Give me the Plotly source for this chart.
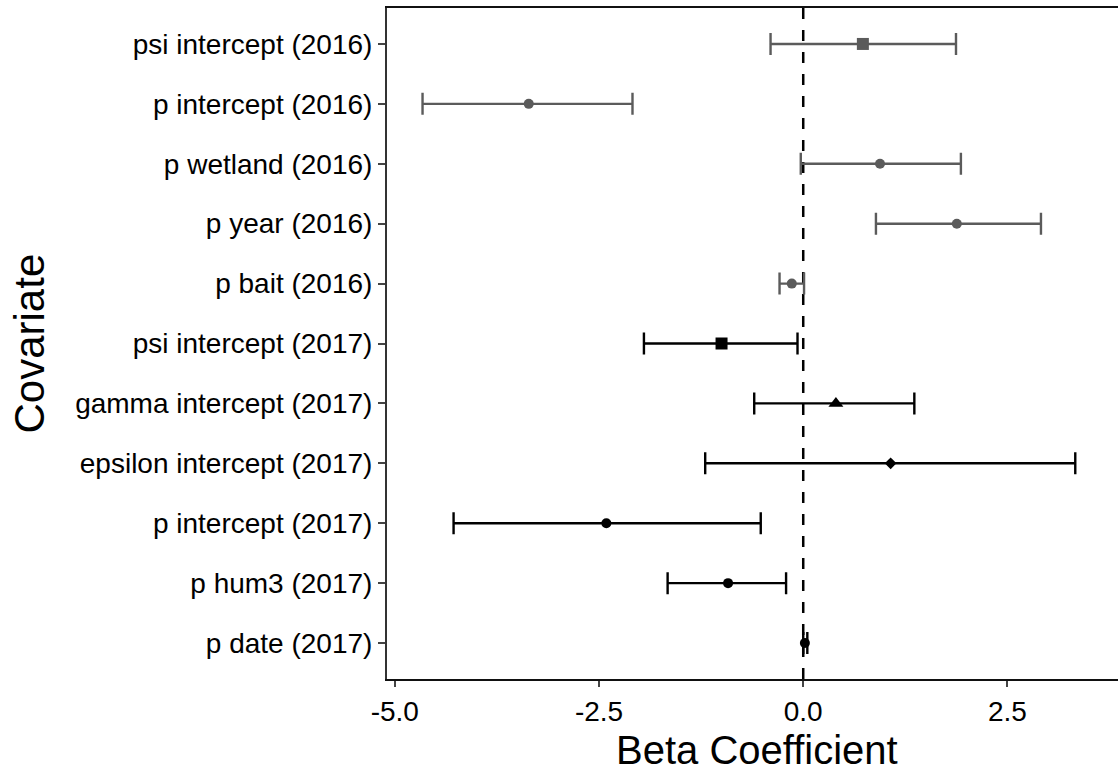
import plotly.graph_objects as go

# Covariates listed from top of the chart to the bottom
covariates = [
    "psi intercept (2016)", "p intercept (2016)", "p wetland (2016)",
    "p year (2016)", "p bait (2016)", "psi intercept (2017)",
    "gamma intercept (2017)", "epsilon intercept (2017)",
    "p intercept (2017)", "p hum3 (2017)", "p date (2017)",
]
beta = [0.73, -3.36, 0.94, 1.88, -0.14, -1.00, 0.40, 1.07, -2.41, -0.92, 0.02]
ci_low = [-0.40, -4.66, -0.03, 0.89, -0.29, -1.95, -0.60, -1.20, -4.28, -1.66, 0.00]
ci_high = [1.87, -2.09, 1.93, 2.91, 0.01, -0.07, 1.36, 3.33, -0.52, -0.21, 0.05]
year = ["2016"] * 5 + ["2017"] * 6
symbols = ["square", "circle", "circle", "circle", "circle",
           "square", "triangle-up", "diamond", "circle", "circle", "circle"]
sizes = [12, 10, 10, 10, 10, 12, 13, 9, 10, 10, 10]

x_ticks = [-5.0, -2.5, 0.0, 2.5]
x_tick_text = ["-5.0", "-2.5", "0.0", "2.5"]

colors = {"2016": "#5b5b5b", "2017": "#000000"}
FONT = "Liberation Sans, Arial, sans-serif"

fig = go.Figure()
for yr in ["2016", "2017"]:
    idx = [i for i, y in enumerate(year) if y == yr]
    fig.add_trace(go.Scatter(
        x=[beta[i] for i in idx],
        y=[covariates[i] for i in idx],
        mode="markers",
        opacity=1,
        marker=dict(symbol=[symbols[i] for i in idx],
                    size=[sizes[i] for i in idx], opacity=1,
                    color=colors[yr], line=dict(width=0)),
        error_x=dict(type="data", symmetric=False,
                     array=[ci_high[i] - beta[i] for i in idx],
                     arrayminus=[beta[i] - ci_low[i] for i in idx],
                     color=colors[yr], thickness=2.4, width=11),
        showlegend=False,
    ))

# zero reference line
fig.add_shape(type="line", xref="x", yref="paper", x0=0, x1=0, y0=0, y1=1,
              line=dict(color="black", width=2.5, dash="11px,11px"), layer="below")

fig.update_layout(
    width=1118, height=774,
    margin=dict(l=387, r=0, t=8, b=95),
    plot_bgcolor="white", paper_bgcolor="white",
    font=dict(family=FONT, color="black"),
    xaxis=dict(range=[-5.095, 3.853], tickvals=x_ticks, ticktext=x_tick_text,
               showgrid=False, zeroline=False, showline=True, linecolor="#111111",
               linewidth=2, mirror=True, ticks="outside", ticklen=6, tickwidth=1.5,
               tickcolor="#444444", tickfont=dict(size=28, color="black", family=FONT)),
    yaxis=dict(categoryorder="array", categoryarray=covariates[::-1],
               range=[-0.6, 10.6], showgrid=False, zeroline=False, showline=True,
               linecolor="#333333", linewidth=2, ticks="outside", ticklen=7,
               tickwidth=1.5, tickcolor="#444444",
               tickfont=dict(size=28, color="black", family=FONT)),
)

fig.add_annotation(text="Beta Coefficient", xref="paper", yref="paper",
                   x=(757 - 387) / (1118 - 387), y=0, yshift=-71,
                   showarrow=False, yanchor="middle",
                   font=dict(size=40, family=FONT, color="black"))
fig.add_annotation(text="Covariate", xref="paper", yref="paper",
                   x=0, xshift=-(387 - 29), y=0.5, textangle=-90,
                   showarrow=False, xanchor="center",
                   font=dict(size=42, family=FONT, color="black"))

fig.write_html("out.html")
